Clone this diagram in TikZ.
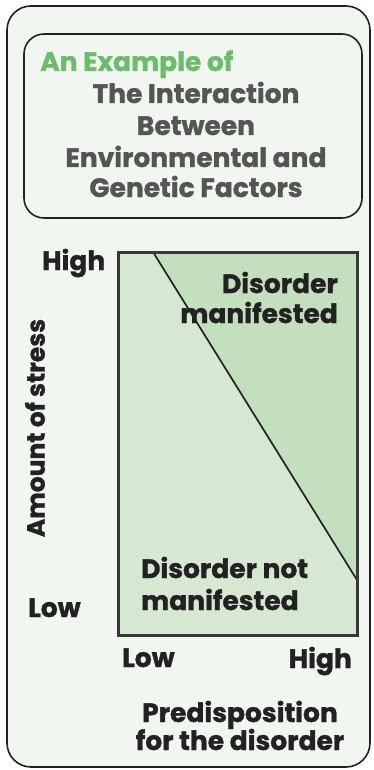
\documentclass[tikz,border=0pt]{standalone}
\usepackage{fontspec}
\setmainfont{Poppins}[BoldFont={* Bold},BoldFeatures={FakeBold=1.2}]
\definecolor{bgpanel}{HTML}{F2F6F1}
\definecolor{lightfill}{HTML}{D7E8D2}
\definecolor{darkfill}{HTML}{C3DFBD}
\definecolor{titlegreen}{HTML}{6CBD6A}
\definecolor{titlegray}{HTML}{555555}
\definecolor{ink}{HTML}{222222}
\begin{document}
\begin{tikzpicture}[x=1pt,y=-1pt,
  panel/.style={draw=ink,line width=1.6pt,rounded corners=24pt,fill=bgpanel},
  titlebox/.style={draw=ink,line width=1.6pt,rounded corners=20pt},
  lab/.style={font=\bfseries\fontsize{26.5}{28}\selectfont,text=ink,inner sep=0pt},
  ttl/.style={font=\bfseries\fontsize{26.5}{28}\selectfont,text=titlegray,inner sep=0pt}]
\useasboundingbox (0,0) rectangle (373,770);
\draw[panel] (7,6) rectangle (370,767);
\draw[titlebox] (24,34) rectangle (362,218);
\node[ttl,text=titlegreen,anchor=base west] (t0) at (40,71) {An Example of};
\node[ttl,anchor=base] (t1) at (196,103) {The Interaction};
\node[ttl,anchor=base] (t2) at (196,135) {Between};
\node[ttl,anchor=base] (t3) at (196,167) {Environmental and};
\node[ttl,anchor=base] (t4) at (196,197) {Genetic Factors};
% chart
\fill[lightfill] (118,252) rectangle (357,635);
\fill[darkfill] (153,252) -- (357,252) -- (357,580) -- cycle;
\draw[ink,line width=1.7pt] (153,252) -- (357,580);
\draw[ink!90,line width=3pt] (118,252) rectangle (357,635);
\node[lab,anchor=base east] (dm1) at (338,293) {Disorder};
\node[lab,anchor=base east] (dm2) at (338,323) {manifested};
\node[lab,anchor=base west] (dn1) at (141,578) {Disorder not};
\node[lab,anchor=base west] (dn2) at (141,610) {manifested};
\node[lab,anchor=base west] (yh) at (42,270) {High};
\node[lab,anchor=base west] (yl) at (28,617) {Low};
\node[lab,anchor=base west] (xl) at (122,667) {Low};
\node[lab,anchor=base east] (xh) at (352,668) {High};
\node[lab,font=\bfseries\fontsize{25}{27}\selectfont,rotate=90] (ya) at (35,428) {Amount of stress};
\node[lab,anchor=base] (xa1) at (240,722) {Predisposition};
\node[lab,anchor=base] (xa2) at (240,750) {for the disorder};
\end{tikzpicture}
\end{document}
